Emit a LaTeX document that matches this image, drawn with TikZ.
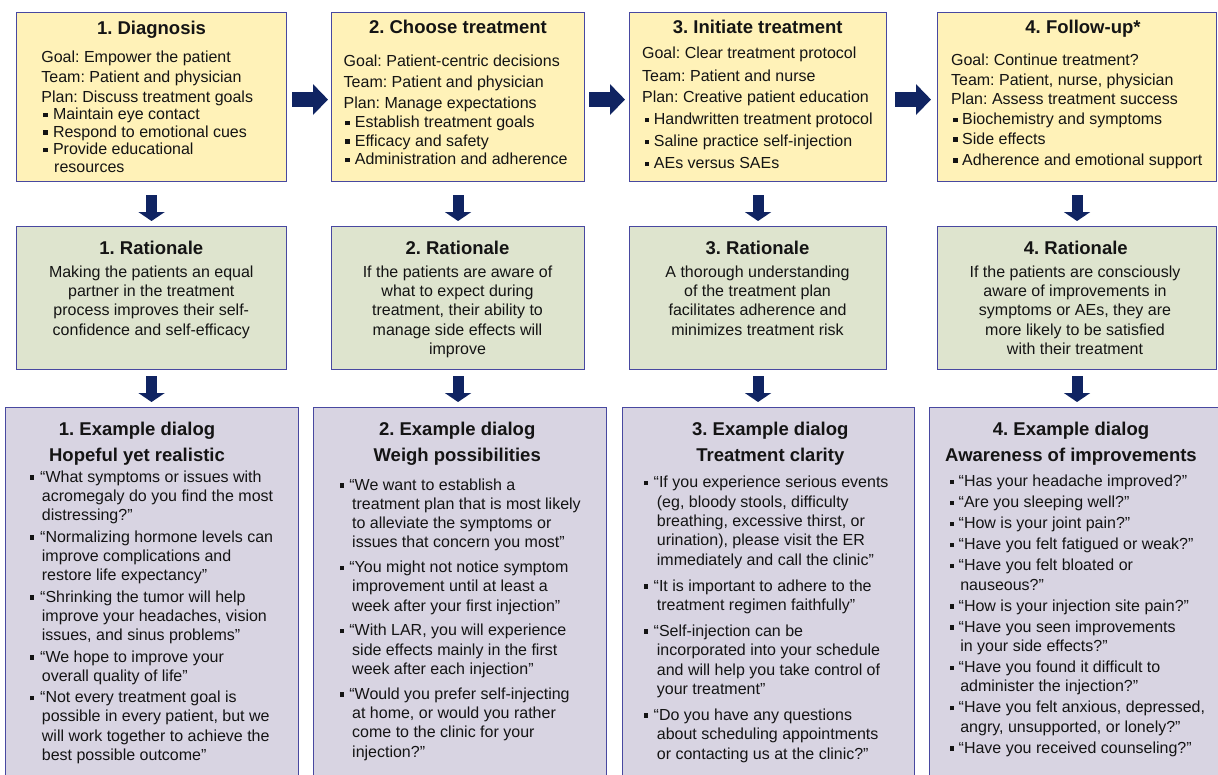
\documentclass[tikz,border=0pt]{standalone}
\usepackage{fontspec}
\setmainfont{Liberation Sans}
\usetikzlibrary{arrows.meta}
\frenchspacing
\definecolor{topfill}{RGB}{255,242,184}
\definecolor{midfill}{RGB}{222,228,206}
\definecolor{botfill}{RGB}{216,212,226}
\definecolor{edgec}{RGB}{72,72,160}
\definecolor{navy}{RGB}{16,36,98}
\definecolor{ink}{RGB}{20,20,20}
\newlength{\bpre}\newlength{\bind}\newlength{\cind}\newlength{\bgap}
\newcommand{\Setb}[4]{\setlength{\bpre}{#1}\setlength{\bind}{#2}\setlength{\cind}{#3}\setlength{\bgap}{#4}}
\newcommand{\Bsq}{\rule[2.5pt]{4.4pt}{4.4pt}}
\newcommand{\Bi}[1]{\hbox{\rlap{\hspace{\bpre}\Bsq}\hspace{\bind}#1}}
\newcommand{\Bc}[1]{\hbox{\hspace{\cind}#1}}
\newcommand{\Bp}[1]{\hbox{#1}}
\newcommand{\Gp}{\vskip\bgap}
\newcommand{\Blk}[2]{\vtop{\frenchspacing\baselineskip=#1\lineskiplimit=-100pt\lineskip=0pt #2}}
\newcommand{\Cblk}[2]{\vtop{\frenchspacing\baselineskip=#1\lineskiplimit=-100pt\lineskip=0pt\halign{\hfil##\hfil\cr #2\crcr}}}
\begin{document}
\begin{tikzpicture}[x=1pt,y=-1pt,
  box/.style={draw=edgec, line width=1.1pt, rectangle, inner sep=0pt, anchor=north west},
  ybox/.style={box, fill=topfill, minimum height=169pt},
  gbox/.style={box, fill=midfill, minimum height=143pt},
  pbox/.style={box, fill=botfill, minimum height=383pt},
  txt/.style={inner sep=0pt, font=\fontsize{16}{19}\selectfont\frenchspacing, text=ink},
  ttl/.style={inner sep=0pt, font=\fontsize{18.5}{22}\selectfont\bfseries\frenchspacing, text=ink},
  darrow/.style={draw=navy, line width=11pt, -{Triangle[width=26pt,length=9pt]}},
  rarrow/.style={draw=navy, line width=15pt, -{Triangle[width=30pt,length=15pt]}}]
\useasboundingbox (0,0) rectangle (1218,774);
\clip (0,0) rectangle (1218,774);

% boxes
\node[ybox, minimum width=270pt] (t1) at (16,12) {};
\node[ybox, minimum width=253pt] (t2) at (331,12) {};
\node[ybox, minimum width=257pt] (t3) at (629,12) {};
\node[ybox, minimum width=279pt] (t4) at (937,12) {};
\node[gbox, minimum width=270pt] (m1) at (16,226) {};
\node[gbox, minimum width=253pt] (m2) at (331,226) {};
\node[gbox, minimum width=257pt] (m3) at (629,226) {};
\node[gbox, minimum width=279pt] (m4) at (937,226) {};
\node[pbox, minimum width=293pt] (b1) at (5,407) {};
\node[pbox, minimum width=293pt] (b2) at (313,407) {};
\node[pbox, minimum width=292pt] (b3) at (622,407) {};
\node[pbox, minimum width=296pt] (b4) at (929,407) {};

% arrows
\draw[rarrow, shorten <=5pt, shorten >=3pt] ([yshift=-2.5pt]t1.east) -- ([yshift=-2.5pt]t2.west);
\draw[rarrow, shorten <=4pt, shorten >=4pt] ([yshift=-2.5pt]t2.east) -- ([yshift=-2.5pt]t3.west);
\draw[rarrow, shorten <=8pt, shorten >=6pt] ([yshift=-2.5pt]t3.east) -- ([yshift=-2.5pt]t4.west);
\foreach \i in {1,2,3,4}{
  \draw[darrow, shorten <=13pt, shorten >=5pt] (t\i.south) -- (m\i.north);
  \draw[darrow, shorten <=6pt, shorten >=5pt] (m\i.south) -- (m\i.south |- b\i.north);
}

% top titles
\node[ttl, anchor=base] (t1h) at (151.5,34.5) {1. Diagnosis};
\node[ttl, anchor=base] (t2h) at (458,33.5) {2. Choose treatment};
\node[ttl, anchor=base] (t3h) at (757.7,33.5) {3. Initiate treatment};
\node[ttl, anchor=base] (t4h) at (1083,33.5) {4. Follow-up*};

% top texts
\node[txt, anchor=base west] (t1x) at (41.2,62) {\Blk{17.7pt}{\Setb{2pt}{11.6pt}{12.8pt}{0pt}%
 \Bp{Goal: Empower the patient}\vskip2.3pt
 \Bp{Team: Patient and physician}\vskip2.3pt
 \Bp{Plan: Discuss treatment goals}\vskip-0.2pt
 \Bi{Maintain eye contact}
 \Bi{Respond to emotional cues}
 \Bi{Provide educational}
 \Bc{resources}}};
\node[txt, anchor=base west] (t2x) at (343.5,66.5) {\Blk{18.5pt}{\Setb{1.5pt}{11.2pt}{11.2pt}{0pt}%
 \Bp{Goal: Patient-centric decisions}\vskip2pt
 \Bp{Team: Patient and physician}\vskip2.5pt
 \Bp{Plan: Manage expectations}\vskip1pt
 \Bi{Establish treatment goals}
 \Bi{Efficacy and safety}
 \Bi{Administration and adherence}}};
\node[txt, anchor=base west] (t3x) at (641.9,58.5) {\Blk{22pt}{\Setb{2.4pt}{11.8pt}{11.8pt}{0pt}%
 \Bp{Goal: Clear treatment protocol}\vskip0.5pt
 \Bp{Team: Patient and nurse}\vskip-0.5pt
 \Bp{Plan: Creative patient education}
 \Bi{Handwritten treatment protocol}
 \Bi{Saline practice self-injection}
 \Bi{AEs versus SAEs}}};
\node[txt, anchor=base west] (t4x) at (950.9,65) {\Blk{20pt}{\Setb{2.1pt}{11.1pt}{11.1pt}{0pt}%
 \Bp{Goal: Continue treatment?}
 \Bp{Team: Patient, nurse, physician}\vskip-0.5pt
 \Bp{Plan: Assess treatment success}
 \Bi{Biochemistry and symptoms}\vskip-0.5pt
 \Bi{Side effects}\vskip1pt
 \Bi{Adherence and emotional support}}};

% middle titles and texts
\node[ttl, anchor=base] (m1h) at (151.3,254) {1. Rationale};
\node[ttl, anchor=base] (m2h) at (457.5,254) {2. Rationale};
\node[ttl, anchor=base] (m3h) at (757.5,254) {3. Rationale};
\node[ttl, anchor=base] (m4h) at (1075.8,254) {4. Rationale};
\node[txt, anchor=base] (m1x) at (151.3,277.3) {\Cblk{19.3pt}{Making the patients an equal\cr partner in the treatment\cr process improves their self-\cr confidence and self-efficacy}};
\node[txt, anchor=base] (m2x) at (457.5,277.3) {\Cblk{19.3pt}{If the patients are aware of\cr what to expect during\cr treatment, their ability to\cr manage side effects will\cr improve}};
\node[txt, anchor=base] (m3x) at (757.5,277.3) {\Cblk{19.3pt}{A thorough understanding\cr of the treatment plan\cr facilitates adherence and\cr minimizes treatment risk}};
\node[txt, anchor=base] (m4x) at (1075,277.3) {\Cblk{19.3pt}{If the patients are consciously\cr aware of improvements in\cr symptoms or AEs, they are\cr more likely to be satisfied\cr with their treatment}};

% bottom titles
\node[ttl, anchor=base] (b1h) at (137,435) {\Cblk{26pt}{1. Example dialog\cr Hopeful yet realistic}};
\node[ttl, anchor=base] (b2h) at (457.2,435) {\Cblk{26pt}{2. Example dialog\cr Weigh possibilities}};
\node[ttl, anchor=base] (b3h) at (770.3,435) {\Cblk{26pt}{3. Example dialog\cr Treatment clarity}};
\node[ttl, anchor=base] (b4h) at (1071,435) {\Cblk{26pt}{4. Example dialog\cr Awareness of improvements}};

% bottom texts
\node[txt, anchor=base west] (b1x) at (29.3,482.3) {\Blk{19.1pt}{\Setb{0pt}{10.7pt}{12.4pt}{2.6pt}%
 \Bi{“What symptoms or issues with}
 \Bc{acromegaly do you find the most}
 \Bc{distressing?”}\Gp
 \Bi{“Normalizing hormone levels can}
 \Bc{improve complications and}
 \Bc{restore life expectancy”}\Gp
 \Bi{“Shrinking the tumor will help}
 \Bc{improve your headaches, vision}
 \Bc{issues, and sinus problems”}\Gp
 \Bi{“We hope to improve your}
 \Bc{overall quality of life”}\Gp
 \Bi{“Not every treatment goal is}
 \Bc{possible in every patient, but we}
 \Bc{will work together to achieve the}
 \Bc{best possible outcome”}}};
\node[txt, anchor=base west] (b2x) at (339.3,490) {\Blk{19.3pt}{\Setb{0pt}{9.9pt}{12.7pt}{5.4pt}%
 \Bi{“We want to establish a}
 \Bc{treatment plan that is most likely}
 \Bc{to alleviate the symptoms or}
 \Bc{issues that concern you most”}\Gp
 \Bi{“You might not notice symptom}
 \Bc{improvement until at least a}
 \Bc{week after your first injection”}\Gp
 \Bi{“With LAR, you will experience}
 \Bc{side effects mainly in the first}
 \Bc{week after each injection”}\Gp
 \Bi{“Would you prefer self-injecting}
 \Bc{at home, or would you rather}
 \Bc{come to the clinic for your}
 \Bc{injection?”}}};
\node[txt, anchor=base west] (b3x) at (643.3,487.7) {\Blk{19.4pt}{\Setb{0pt}{10.2pt}{13.4pt}{6.4pt}%
 \Bi{“If you experience serious events}
 \Bc{(eg, bloody stools, difficulty}
 \Bc{breathing, excessive thirst, or}
 \Bc{urination), please visit the ER}
 \Bc{immediately and call the clinic”}\Gp
 \Bi{“It is important to adhere to the}
 \Bc{treatment regimen faithfully”}\Gp
 \Bi{“Self-injection can be}
 \Bc{incorporated into your schedule}
 \Bc{and will help you take control of}
 \Bc{your treatment”}\Gp
 \Bi{“Do you have any questions}
 \Bc{about scheduling appointments}
 \Bc{or contacting us at the clinic?”}}};
\node[txt, anchor=base west] (b4x) at (949.3,486.7) {\Blk{19.4pt}{\Setb{0pt}{9.2pt}{10.8pt}{1.6pt}%
 \Bi{“Has your headache improved?”}\Gp
 \Bi{“Are you sleeping well?”}\Gp
 \Bi{“How is your joint pain?”}\Gp
 \Bi{“Have you felt fatigued or weak?”}\Gp
 \Bi{“Have you felt bloated or}
 \Bc{nauseous?”}\Gp
 \Bi{“How is your injection site pain?”}\Gp
 \Bi{“Have you seen improvements}
 \Bc{in your side effects?”}\Gp
 \Bi{“Have you found it difficult to}
 \Bc{administer the injection?”}\Gp
 \Bi{“Have you felt anxious, depressed,}
 \Bc{angry, unsupported, or lonely?”}\Gp
 \Bi{“Have you received counseling?”}}};
\end{tikzpicture}
\end{document}
